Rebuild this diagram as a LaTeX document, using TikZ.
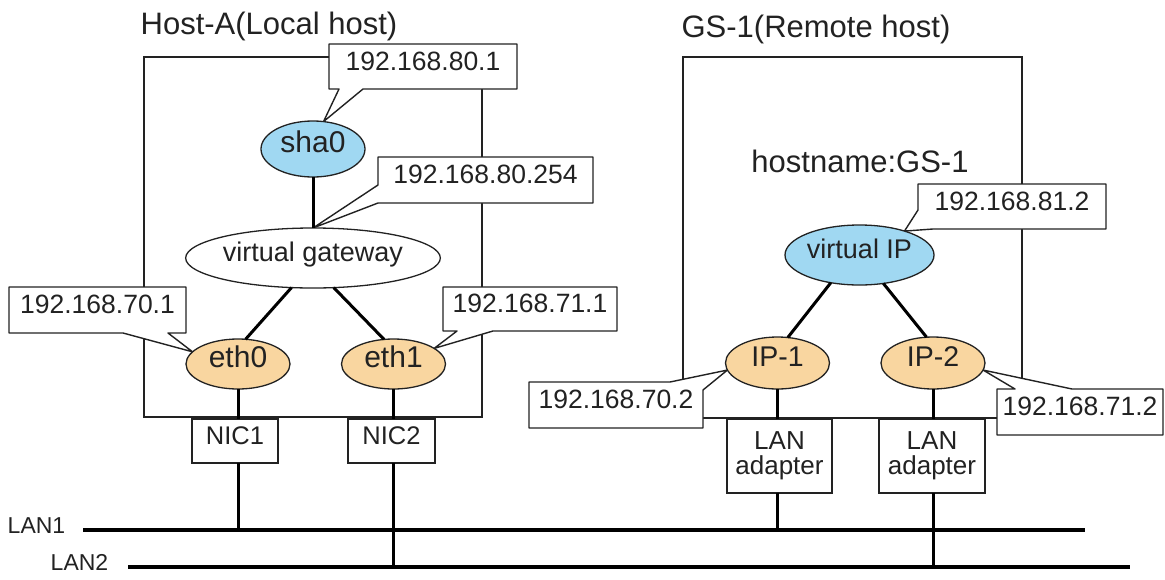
\documentclass[tikz,border=0pt]{standalone}
\usepackage{fontspec}
\setmainfont{Liberation Sans}
\usetikzlibrary{shapes.geometric,calc}
\pgfdeclarelayer{bg}
\pgfsetlayers{bg,main}
\definecolor{nblue}{HTML}{A0D8F2}
\definecolor{norange}{HTML}{F9D6A0}
\definecolor{ink}{HTML}{222222}
\begin{document}
\begin{tikzpicture}[x=1pt,y=-1pt,
  every node/.style={inner sep=0pt, outer sep=0pt, text=ink},
  hostbox/.style={draw=ink, line width=1.4pt, rectangle},
  callout/.style={draw=ink, fill=white, line width=1.4pt, line join=round},
  cotext/.style={rectangle, font=\fontsize{26.5}{30}\selectfont, text height=0.72em, text depth=0pt},
  ell/.style={ellipse, draw=ink, line width=1.3pt, text height=0.72em, text depth=0pt},
  nicbox/.style={rectangle, draw=ink, fill=white, line width=1.4pt},
  conn/.style={draw=black, line width=3pt},
  lan/.style={draw=black, line width=3.5pt},
  titletext/.style={font=\fontsize{31}{34}\selectfont},
]
\useasboundingbox (0,0) rectangle (1165,579);

% titles
\node[titletext, anchor=base] (tA) at (269,34) {Host-A(Local host)};
\node[titletext, anchor=base] (tG) at (816,37) {GS-1(Remote host)};
\node[titletext, anchor=base] (hn) at (860,172) {hostname:GS-1};

% ellipses
\node[ell, fill=nblue, minimum width=104pt, minimum height=56pt, font=\fontsize{30}{30}\selectfont] (sha0) at (313,149) {sha0};
\node[ell, fill=white, minimum width=214pt, minimum height=60pt, font=\fontsize{27}{30}\selectfont] (vg) at (313,258) {virtual gateway};
\node[ell, fill=norange, minimum width=104pt, minimum height=50pt, font=\fontsize{30}{30}\selectfont] (eth0) at (238,364) {eth0};
\node[ell, fill=norange, minimum width=104pt, minimum height=50pt, font=\fontsize{30}{30}\selectfont] (eth1) at (393.5,364) {eth1};
\node[ell, fill=nblue, minimum width=149pt, minimum height=60pt, font=\fontsize{27}{30}\selectfont] (vip) at (859.5,255) {virtual IP};
\node[ell, fill=norange, minimum width=104pt, minimum height=52pt, font=\fontsize{28.5}{30}\selectfont] (ip1) at (777.5,363) {IP-1};
\node[ell, fill=norange, minimum width=104pt, minimum height=52pt, font=\fontsize{28.5}{30}\selectfont] (ip2) at (933,363) {IP-2};

% NIC / LAN adapter boxes
\node[nicbox, minimum width=86pt, minimum height=44pt, font=\fontsize{25.5}{28}\selectfont, text height=0.72em, text depth=0pt] (nic1) at (235,441) {NIC1};
\node[nicbox, minimum width=87pt, minimum height=44pt, font=\fontsize{25.5}{28}\selectfont, text height=0.72em, text depth=0pt] (nic2) at (391.5,441) {NIC2};
\node[nicbox, minimum width=105pt, minimum height=74pt, font=\fontsize{26}{25}\selectfont, align=center] (lad1) at (779.5,456) {LAN\\adapter};
\node[nicbox, minimum width=106pt, minimum height=74pt, font=\fontsize{26}{25}\selectfont, align=center] (lad2) at (932,456) {LAN\\adapter};

% callout texts
\node[cotext, minimum width=188pt, minimum height=45pt] (c801) at (423,66.5) {192.168.80.1};
\node[cotext, minimum width=215pt, minimum height=46pt] (c80254) at (485.5,180) {192.168.80.254};
\node[cotext, minimum width=177pt, minimum height=46pt] (c701) at (97.5,310) {192.168.70.1};
\node[cotext, minimum width=174pt, minimum height=44pt] (c711) at (530,309) {192.168.71.1};
\node[cotext, minimum width=188pt, minimum height=45pt] (c812) at (1012,206.5) {192.168.81.2};
\node[cotext, minimum width=174pt, minimum height=46pt] (c702) at (616,405) {192.168.70.2};
\node[cotext, minimum width=166pt, minimum height=46pt] (c712) at (1080,412) {192.168.71.2};

% LAN lines
\coordinate (l1w) at (83,530);
\coordinate (l1e) at (1085,530);
\coordinate (l2w) at (128,567);
\coordinate (l2e) at (1130,567);
\node[font=\fontsize{23}{26}\selectfont, text height=0.72em, text depth=0pt] (lan1) at (36.5,530) {LAN1};
\node[font=\fontsize{23}{26}\selectfont, text height=0.72em, text depth=0pt] (lan2) at (79.5,567) {LAN2};
\draw[lan] (l1w) -- (l1e);
\draw[lan] (l2w) -- (l2e);

% background: host boxes and callout shapes
\begin{pgfonlayer}{bg}
\fill[white] (0,0) rectangle (1165,579);
\node[hostbox, minimum width=338pt, minimum height=360pt] (hostA) at (313,237) {};
\node[hostbox, minimum width=339pt, minimum height=361pt] (gs1) at (852.5,237.5) {};
\draw[callout] (c801.north west) -- (c801.north east) -- (c801.south east)
  -- ($(c801.south west)+(34,0)$) -- (sha0.69) -- ($(c801.south west)+(10,0)$)
  -- (c801.south west) -- cycle;
\draw[callout] (c80254.north west) -- (c80254.north east) -- (c80254.south east)
  -- (c80254.south west) -- (vg.north) -- ($(c80254.north west)+(0,28)$) -- cycle;
\draw[callout] (c701.north west) -- (c701.north east) -- (c701.south east)
  -- ($(c701.south west)+(159,0)$) -- (eth0.165) -- ($(c701.south west)+(114,0)$)
  -- (c701.south west) -- cycle;
\draw[callout] (c711.north west) -- (c711.north east) -- (c711.south east)
  -- ($(c711.south west)+(50,0)$) -- (eth1.21) -- ($(c711.south west)+(14,0)$)
  -- (c711.south west) -- cycle;
\draw[callout] (c812.north west) -- (c812.north east) -- (c812.south east)
  -- ($(c812.south west)+(15,0)$) -- (vip.28) -- ($(c812.north west)+(0,26)$) -- cycle;
\draw[callout] (c702.north west) -- ($(c702.north west)+(141,0)$) -- (ip1.188)
  -- ($(c702.north east)+(0,8)$) -- (c702.south east) -- (c702.south west) -- cycle;
\draw[callout] (c712.north west) -- ($(c712.north west)+(18,0)$) -- (ip2.352)
  -- ($(c712.north west)+(75,0)$) -- (c712.north east) -- (c712.south east)
  -- (c712.south west) -- cycle;
\end{pgfonlayer}

% connectors
\draw[conn] (sha0.south) -- (vg.north);
\draw[conn] (vg.234) -- (eth0.73);
\draw[conn] (vg.305) -- (eth1.111);
\draw[conn] (vip.224) -- (ip1.68);
\draw[conn] (vip.310) -- (ip2.104);
\draw[conn] (eth0.south) -- (eth0.south |- nic1.north);
\draw[conn] (eth1.south) -- (eth1.south |- nic2.north);
\draw[conn] (eth0.south |- nic1.south) -- (eth0.south |- l1w);
\draw[conn] (eth1.south |- nic2.south) -- (eth1.south |- l2w);
\draw[conn] (ip1.south) -- (ip1.south |- lad1.north);
\draw[conn] (ip2.south) -- (ip2.south |- lad2.north);
\draw[conn] (ip1.south |- lad1.south) -- (ip1.south |- l1w);
\draw[conn] (ip2.south |- lad2.south) -- (ip2.south |- l2w);
\end{tikzpicture}
\end{document}
